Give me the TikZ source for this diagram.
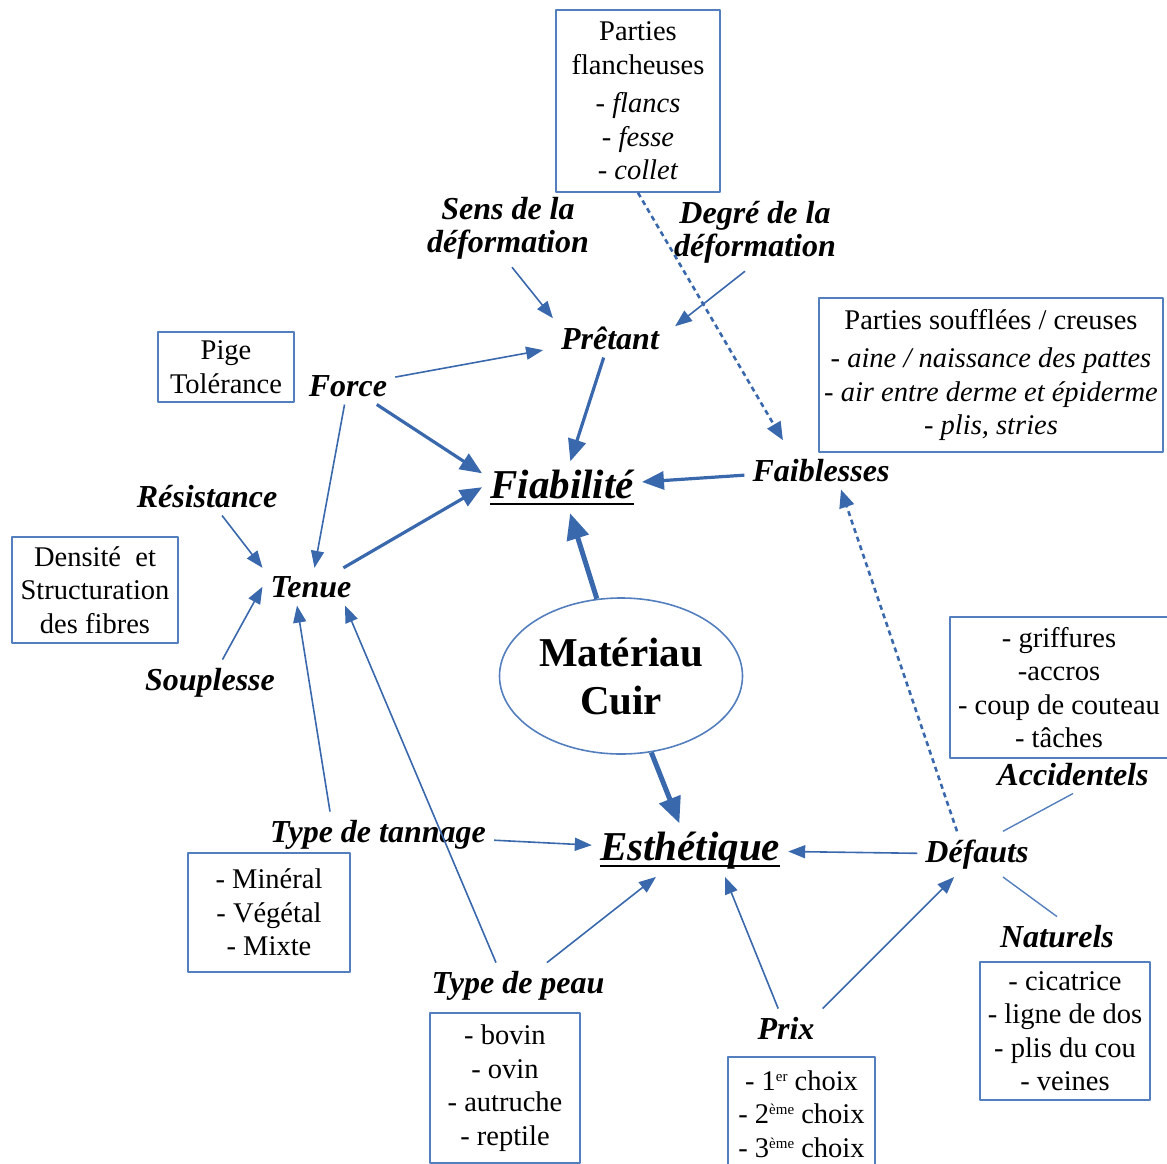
\documentclass[tikz,border=0pt]{standalone}
\usepackage{fontspec}
\setmainfont{Liberation Serif}
\usetikzlibrary{arrows.meta,shapes.geometric}
\definecolor{trait}{RGB}{58,104,172}
\definecolor{cadre}{RGB}{84,127,190}
\newcommand\souligne[1]{\setbox0\hbox{#1}\rlap{\usebox0}\rule[-7pt]{\wd0}{2.5pt}}
\newcommand\exposant[1]{\raisebox{9pt}{\fontsize{15}{15}\selectfont #1}}

\begin{document}
\begin{tikzpicture}[x=1pt,y=-1pt,line join=round,
	lab/.style={font=\fontsize{32}{33}\selectfont\bfseries\itshape,inner sep=8pt,align=center},
	pole/.style={font=\fontsize{41}{44}\selectfont\bfseries\itshape,inner sep=8pt},
	boite/.style={draw=cadre,line width=1.6pt,align=center,inner sep=0pt,font=\fontsize{28.5}{33.5}\selectfont},
	fin/.style={trait,line width=1.6pt,-{Triangle[length=17pt,width=13pt]}},
	gros/.style={trait,line width=3.2pt,-{Triangle[length=22pt,width=18pt]}},
	tresgros/.style={trait,line width=5pt,-{Triangle[length=26pt,width=22pt]}},
	pointille/.style={trait,line width=2.6pt,dash pattern=on 5pt off 4pt,-{Triangle[length=18pt,width=15pt]}},
	lien/.style={cadre,line width=1.4pt}]
	\useasboundingbox (0,0) rectangle (1167,1164);
	% encadres
	\node[boite,minimum width=164pt,minimum height=182pt] (flanch) at (638,101) {Parties\\flancheuses\\[5pt]\textit{- flancs}\\\textit{- fesse}\\\textit{- collet}};
	\node[boite,minimum width=344pt,minimum height=154pt] (souffl) at (991,375) {Parties soufflées / creuses\\[5pt]\textit{- aine / naissance des pattes}\\\textit{- air entre derme et épiderme}\\\textit{- plis, stries}};
	\node[boite,minimum width=136pt,minimum height=70pt] (pige) at (226,367) {Pige\\Tolérance};
	\node[boite,minimum width=166pt,minimum height=106pt] (densite) at (95,590) {Densité~ et\\Structuration\\des fibres};
	\node[boite,minimum width=218pt,minimum height=141pt] (griff) at (1059,687.5) {- griffures\\-accros\\- coup de couteau\\- tâches};
	\node[boite,minimum width=162pt,minimum height=119pt] (mineral) at (269,912.5) {- Minéral\\- Végétal\\- Mixte};
	\node[boite,minimum width=150pt,minimum height=150pt] (peaux) at (505,1088) {- bovin\\- ovin\\- autruche\\- reptile};
	\node[boite,minimum width=147pt,minimum height=114pt] (choix) at (801.5,1114) {- 1\exposant{er} choix\\- 2\exposant{ème} choix\\- 3\exposant{ème} choix};
	\node[boite,minimum width=170pt,minimum height=138pt] (natbox) at (1065,1031) {- cicatrice\\- ligne de dos\\- plis du cou\\- veines};
	% centre
	\node[ellipse,draw=cadre,line width=1.6pt,minimum width=243pt,minimum height=156pt,inner sep=0pt,align=center,font=\fontsize{41}{48}\selectfont\bfseries] (cuir) at (621,676) {Matériau\\Cuir};
	% etiquettes
	\node[lab] (sens) at (508,228) {Sens de la\\déformation};
	\node[lab] (degre) at (755,232) {Degré de la\\déformation};
	\node[lab,anchor=base] (pretant) at (610,349) {Prêtant};
	\node[lab,anchor=base] (force) at (348,396) {Force};
	\node[pole,anchor=base] (fiab) at (562,498) {\souligne{Fiabilité}};
	\node[lab,anchor=base] (faibl) at (821,481) {Faiblesses};
	\node[lab,anchor=base] (resist) at (207,507) {Résistance};
	\node[lab,anchor=base] (tenue) at (311,597) {Tenue};
	\node[lab,anchor=base] (soupl) at (210,690) {Souplesse};
	\node[lab,anchor=base] (tannage) at (378,842) {Type de tannage};
	\node[pole,anchor=base] (esth) at (690,860) {\souligne{Esthétique}};
	\node[lab,anchor=base] (defauts) at (977,862) {Défauts};
	\node[lab,anchor=base] (accid) at (1073,785) {Accidentels};
	\node[lab,anchor=base] (natur) at (1057,947) {Naturels};
	\node[lab,anchor=base] (peau) at (518,993) {Type de peau};
	\node[lab,anchor=base] (prix) at (786,1039) {Prix};
	% liens
	\draw[fin] ([xshift=4pt]sens.south) -- (pretant.north west);
	\draw[fin] ([xshift=-10pt]degre.south) -- ([xshift=8pt,yshift=-8pt]pretant.north east);
	\draw[pointille,shorten >=12pt] (flanch.south) -- ([xshift=-32pt]faibl.north);
	\draw[fin,shorten >=10pt] (force) -- (pretant);
	\draw[gros] (pretant) -- (fiab);
	\draw[gros] (force) -- ([yshift=-12pt]fiab.north west);
	\draw[gros] (faibl) -- (fiab);
	\draw[fin] (force) -- (tenue);
	\draw[fin] (resist) -- (tenue.north west);
	\draw[fin] (soupl) -- (tenue.west);
	\draw[gros] (tenue) -- (fiab.west);
	\draw[tresgros] (cuir) -- (fiab);
	\draw[tresgros] (cuir) -- (esth);
	\draw[fin] ([xshift=-48pt]tannage.north) -- ([xshift=-14pt]tenue.south);
	\draw[fin] ([xshift=-22pt]peau.north) -- ([xshift=34pt]tenue.south);
	\draw[fin] (tannage) -- (esth);
	\draw[fin] (peau) -- (esth);
	\draw[fin] (prix) -- ([xshift=35pt]esth.south);
	\draw[fin] (prix.north east) -- (defauts);
	\draw[fin] (defauts) -- (esth);
	\draw[pointille] ([xshift=-20pt]defauts.north) -- ([xshift=20pt]faibl.south);
	\draw[lien] (accid.south) -- ([xshift=26pt]defauts.north);
	\draw[lien] ([xshift=26pt]defauts.south) -- (natur.north);
\end{tikzpicture}
\end{document}
